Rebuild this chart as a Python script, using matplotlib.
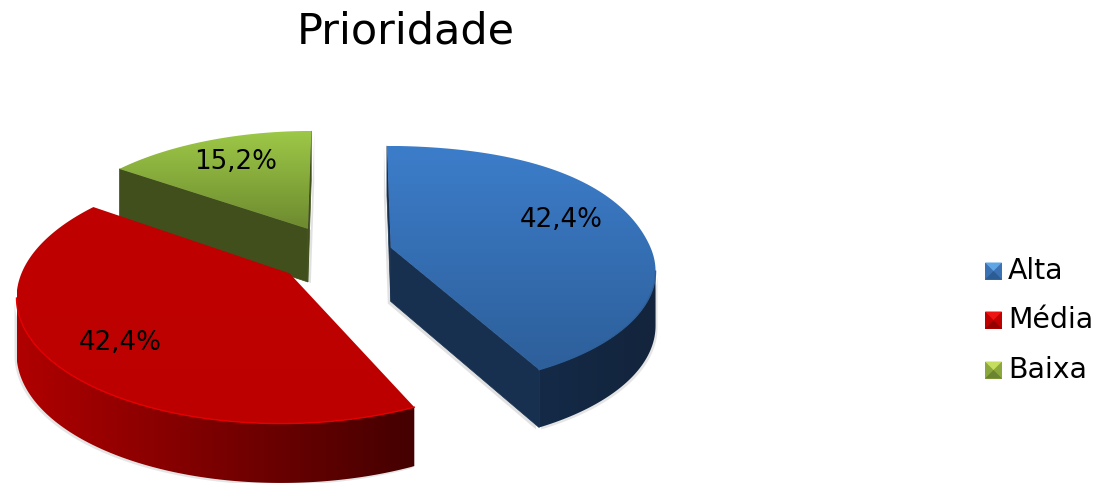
import numpy as np
import matplotlib
matplotlib.use('Agg')
import matplotlib.pyplot as plt
from matplotlib.colors import LinearSegmentedColormap
from matplotlib.patches import Polygon

# data
categories = ['Alta', 'Média', 'Baixa']
values = [42.4, 42.4, 15.2]

top_colors = [('#3c7dca', '#2d5f9a'), ('#c00000', '#bc0000'), ('#9dc847', '#6d8a2f')]
cut_colors = ['#173050', '#3a0000', '#404f1c']
side_colors = [('#142a47', '#13243c'), ('#b00000', '#440000'), ('#404f1c', '#404f1c')]
rim_colors = ['#2f5f98', '#e40000', '#6d8a2f']
legend_colors = [('#5ea6e6', '#3a72b4', '#2c5c94'), ('#ee1414', '#c00000', '#940000'), ('#c6de60', '#8aa83c', '#6c8432')]
label_pos = [(561, 220), (120, 343), (236, 162)]
legend_y = [271, 320, 370]

# projection of the tilted disc, in pixels
CX, CY = 334, 254
RX, RY = 262, 120
PERSP = 0.16
DEPTH = 54
explode = [0.225, 0.215, 0.215]
# small per-slice corrections to line up with the drawn pie
arc_shift = [(0, -1), (0, -2.5), (0, 0)]
pixel_shift = [(0, 0), (-1, 2), (-1, -3)]
wall_shadow = [(2, 2), (-2, 2), (0, 0)]
bulge = [0.035, 0.0, 0.0]


def slice_origin(a0, a1, e):
    mid = np.radians((a0 + a1) / 2)
    return e * np.cos(mid), e * np.sin(mid)


def project(u, v):
    k = 1 + PERSP * v
    return CX + RX * u / k, CY - RY * v / k


def grad_fill(ax, poly, c0, c1, horizontal, z):
    xs, ys = poly[:, 0], poly[:, 1]
    cmap = LinearSegmentedColormap.from_list('g', [c0, c1])
    ramp = np.linspace(0, 1, 256)
    img = ramp[None, :] if horizontal else ramp[:, None]
    im = ax.imshow(img, cmap=cmap, aspect='auto', zorder=z, vmin=0, vmax=1, interpolation='bilinear',
                   extent=(xs.min(), xs.max(), ys.max(), ys.min()))
    clip = Polygon(poly, closed=True, transform=ax.transData, fc='none', ec='none')
    ax.add_patch(clip)
    im.set_clip_path(clip)


fig = plt.figure(figsize=(11.01, 4.83), dpi=100)
ax = fig.add_axes([0, 0, 1, 1])
ax.set_xlim(0, 1101)
ax.set_ylim(483, 0)
ax.axis('off')

# slice angles go clockwise from 12 o'clock
angles = 90 - np.concatenate([[0], np.cumsum(values)]) * 3.6
z = 2
for i in [2, 1, 0]:
    a0, a1 = angles[i + 1], angles[i]
    ox, oy = slice_origin(a0, a1, explode[i])
    ang = np.linspace(a0 + arc_shift[i][0], a1 + arc_shift[i][1], 160)
    rad = np.radians(ang)
    r = 1 + bulge[i] * np.sin(2 * rad) ** 2 * (np.sin(rad) > 0)
    sx, sy = pixel_shift[i]
    x, y = project(ox + r * np.cos(rad), oy + r * np.sin(rad))
    x, y = x + sx, y + sy
    d = DEPTH / (1 + 0.08 * (oy + np.sin(rad)))
    px, py = project(ox, oy)
    px, py = px + sx, py + sy
    pd = DEPTH / (1 + 0.08 * oy)

    # outer wall shows where the arc runs left to right
    front = np.gradient(x) > 0
    wall = None
    if front.any():
        wall = np.vstack([np.c_[x[front], y[front]], np.c_[x[front], y[front] + d[front]][::-1]])

    # cut walls, blue and green only show theirs
    cuts = []
    if i == 0:
        cuts = [(x[-1], y[-1], d[-1]), (x[0], y[0], d[0])]
    elif i == 2:
        cuts = [(x[0], y[0], d[0]), (x[-1], y[-1], d[-1])]
    sh = {0: (-3, 2), 2: (3, 1)}.get(i, (0, 0))
    for cx_, cy_, cd in cuts:
        quad = np.array([[px, py], [cx_, cy_], [cx_, cy_ + cd], [px, py + pd]])
        ax.add_patch(Polygon(quad + sh, closed=True, fc='#b4b4b4', ec='none', alpha=0.4, zorder=z))
        z += 1
    for cx_, cy_, cd in cuts:
        quad = np.array([[px, py], [cx_, cy_], [cx_, cy_ + cd], [px, py + pd]])
        ax.add_patch(Polygon(quad, closed=True, fc=cut_colors[i], ec=cut_colors[i], lw=0.5, zorder=z))
        z += 1
    if wall is not None:
        # faint cast shadow under the outer wall
        ax.add_patch(Polygon(wall + wall_shadow[i], closed=True, fc='#c0c0c0', ec='none', alpha=0.4, zorder=z))
        z += 1
        grad_fill(ax, wall, side_colors[i][0], side_colors[i][1], True, z)
        z += 1

    top = np.vstack([[px, py], np.c_[x, y]])
    grad_fill(ax, top, top_colors[i][0], top_colors[i][1], False, z)
    z += 1
    if front.any():
        ax.plot(x[front], y[front], color=rim_colors[i], lw=1, zorder=z)
        z += 1

for i, val in enumerate(values):
    ax.text(*label_pos[i], f'{val:.1f}%'.replace('.', ','), ha='center', va='center', fontsize=18.8,
            color='black', zorder=50)

# legend with bevelled keys
for name, ly, (hi, mid, lo) in zip(categories, legend_y, legend_colors):
    l, r_, t, b = 985, 1002, ly - 8.5, ly + 8.5
    cx_, cy_ = (l + r_) / 2, (t + b) / 2
    ax.add_patch(Polygon([[l, t], [r_, t], [r_, b], [l, b]], fc=mid, ec='none', zorder=50))
    ax.add_patch(Polygon([[l, t], [r_, t], [cx_, cy_]], fc=hi, ec='none', zorder=51))
    ax.add_patch(Polygon([[l, b], [r_, b], [cx_, cy_]], fc=lo, ec='none', zorder=51))
    ax.text(1008, ly, name, ha='left', va='center', fontsize=20.4, color='black', zorder=52)

ax.text(406, 31, 'Prioridade', ha='center', va='center', fontsize=31, color='black')

fig.savefig('out.png', dpi=100, facecolor='white')
